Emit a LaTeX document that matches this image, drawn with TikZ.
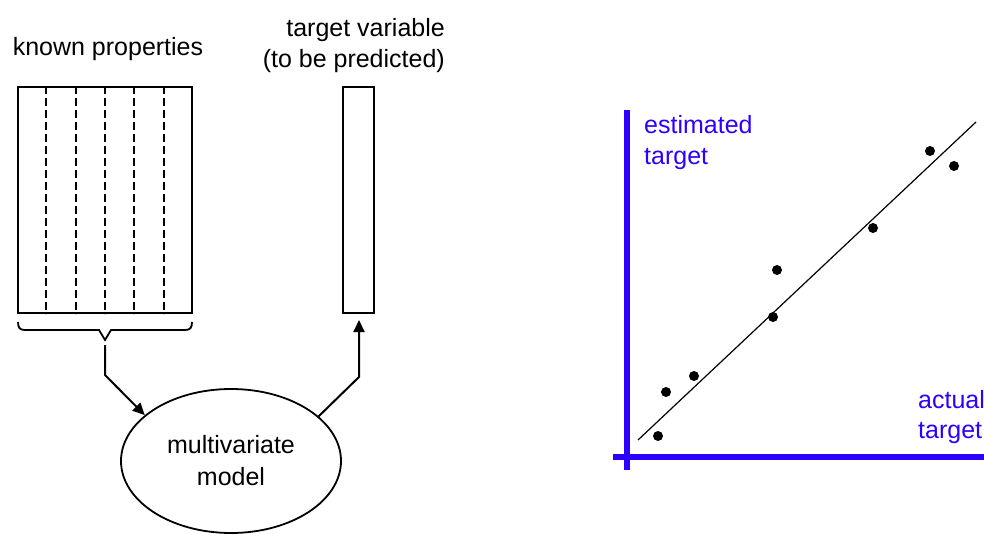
\documentclass[tikz,border=0pt]{standalone}
\usepackage{fontspec}
\setmainfont{Liberation Sans}
\usetikzlibrary{shapes.geometric,arrows.meta,calc}
\definecolor{axisblue}{RGB}{45,0,255}
\tikzset{
  lbl/.style={font=\fontsize{25}{32}\selectfont, inner sep=0pt, anchor=base},
  bluelbl/.style={lbl, text=axisblue, anchor=base west},
  column/.style={draw, line width=2pt, inner sep=0pt},
  divider/.style={line width=1.8pt, dash pattern=on 8pt off 4pt},
  flow/.style={line width=2pt, -{Triangle[length=12pt,width=11pt]}},
  axis/.style={line width=5.5pt, axisblue},
  dot/.style={circle, fill=black, inner sep=0pt, minimum size=10pt}
}
\begin{document}
\begin{tikzpicture}[x=1pt,y=-1pt]
\useasboundingbox (0,0) rectangle (984,534);
\clip (0,0) rectangle (984,534);

% --- data matrix of known properties ---
\node[column, minimum width=174pt, minimum height=226pt] (props) at (105,200) {};
\foreach \k in {1,...,5}
  \draw[divider] ($(props.north west)!\k/6!(props.north east)$) -- ($(props.south west)!\k/6!(props.south east)$);
\node[lbl] (propslbl) at (108,56) {known properties};

% --- target column ---
\node[column, minimum width=31pt, minimum height=226pt] (target) at (358.5,200) {};
\node[lbl, anchor=base east] (targetlbl1) at (445,37) {target variable};
\node[lbl, anchor=base east] (targetlbl2) at (445,68) {(to be predicted)};

% --- brace under the properties ---
\coordinate (bracetip) at (105,340);
\draw[line width=1.8pt] (18,322) .. controls (18,328) and (20,330) .. (25,330)
  -- (99,330) -- (bracetip) -- (111,330) -- (185,330)
  .. controls (190,330) and (192,328) .. (192,322);

% --- model ---
\node[draw, ellipse, line width=1.8pt, minimum width=220pt, minimum height=144pt,
      align=center, font=\fontsize{25}{32}\selectfont] (model) at (231,461) {multivariate\\model};

% --- flow of data ---
\coordinate (bend1) at (105,375);
\coordinate (bend2) at (359,377);
\draw[flow] ($(bracetip)+(0,5)$) -- (bend1) -- (model.152);
\draw[flow, shorten >=6pt] (model.27) -- (bend2) -- (bend2 |- target.south);

% --- estimated vs actual plot ---
\draw[axis] (627,110) -- (627,470);
\draw[axis] (613,457) -- (990,457);
\node[bluelbl] (ylbl1) at (644,134) {estimated};
\node[bluelbl] (ylbl2) at (644,165) {target};
\node[bluelbl] (xlbl1) at (918,408) {actual};
\node[bluelbl] (xlbl2) at (918,438) {target};

\coordinate (fitA) at (638,440);
\coordinate (fitB) at (976,122);
\draw[line width=1.2pt] (fitA) -- (fitB);

\foreach \px/\py [count=\i] in {658/436, 666/392, 694/376, 773/317, 777/270, 873/228, 930/151, 954/166}
  \node[dot] (p\i) at (\px,\py) {};
\end{tikzpicture}
\end{document}
